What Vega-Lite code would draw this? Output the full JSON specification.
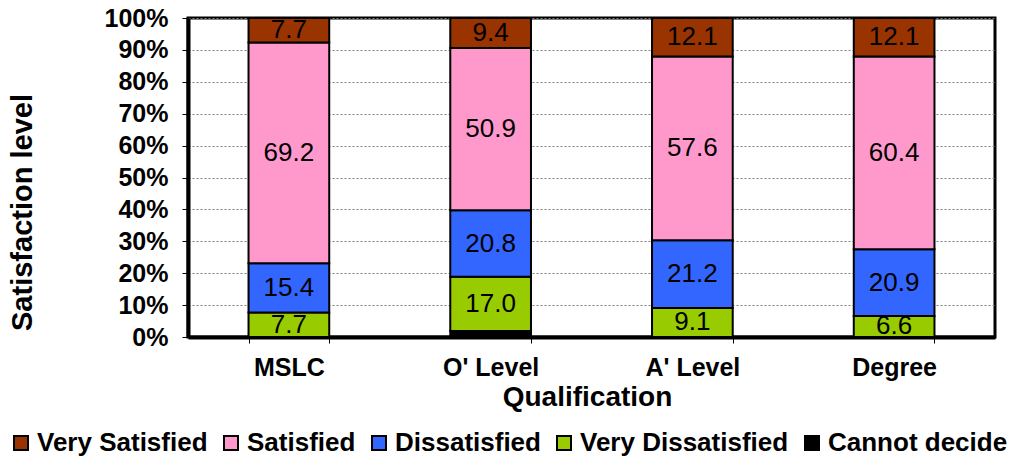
{
  "$schema": "https://vega.github.io/schema/vega-lite/v6.json",
  "width": 807,
  "height": 319,
  "autosize": {"type": "none"},
  "padding": {"left": 188, "top": 18, "right": 34, "bottom": 137},
  "background": "white",
  "config": {
    "font": "Liberation Sans",
    "view": {"stroke": "black", "strokeWidth": 3}
  },
  "data": {
    "values": [
      {"q": "MSLC", "cat": "Cannot decide", "o": 1, "v": 0},
      {"q": "MSLC", "cat": "Very Dissatisfied", "o": 2, "v": 7.7},
      {"q": "MSLC", "cat": "Dissatisfied", "o": 3, "v": 15.4},
      {"q": "MSLC", "cat": "Satisfied", "o": 4, "v": 69.2},
      {"q": "MSLC", "cat": "Very Satisfied", "o": 5, "v": 7.7},
      {"q": "O' Level", "cat": "Cannot decide", "o": 1, "v": 1.9},
      {"q": "O' Level", "cat": "Very Dissatisfied", "o": 2, "v": 17.0},
      {"q": "O' Level", "cat": "Dissatisfied", "o": 3, "v": 20.8},
      {"q": "O' Level", "cat": "Satisfied", "o": 4, "v": 50.9},
      {"q": "O' Level", "cat": "Very Satisfied", "o": 5, "v": 9.4},
      {"q": "A' Level", "cat": "Cannot decide", "o": 1, "v": 0},
      {"q": "A' Level", "cat": "Very Dissatisfied", "o": 2, "v": 9.1},
      {"q": "A' Level", "cat": "Dissatisfied", "o": 3, "v": 21.2},
      {"q": "A' Level", "cat": "Satisfied", "o": 4, "v": 57.6},
      {"q": "A' Level", "cat": "Very Satisfied", "o": 5, "v": 12.1},
      {"q": "Degree", "cat": "Cannot decide", "o": 1, "v": 0},
      {"q": "Degree", "cat": "Very Dissatisfied", "o": 2, "v": 6.6},
      {"q": "Degree", "cat": "Dissatisfied", "o": 3, "v": 20.9},
      {"q": "Degree", "cat": "Satisfied", "o": 4, "v": 60.4},
      {"q": "Degree", "cat": "Very Satisfied", "o": 5, "v": 12.1}
    ]
  },
  "transform": [
    {"stack": "v", "groupby": ["q"], "sort": [{"field": "o", "order": "ascending"}], "as": ["v0", "v1"]},
    {"calculate": "(datum.v0 + datum.v1) / 2", "as": "mid"}
  ],
  "encoding": {
    "x": {
      "field": "q", "type": "nominal",
      "sort": ["MSLC", "O' Level", "A' Level", "Degree"],
      "scale": {"paddingInner": 0.6, "paddingOuter": 0.3},
      "axis": {
        "title": "Qualification",
        "labelAngle": 0,
        "labelFont": "Liberation Sans", "labelFontWeight": "bold", "labelFontSize": 25, "labelColor": "black",
        "labelPadding": 12,
        "titleFont": "Liberation Sans", "titleFontWeight": "bold", "titleFontSize": 28, "titleColor": "black",
        "titlePadding": 0,
        "titleX": 399,
        "titleY": 46,
        "titleBaseline": "top",
        "domainColor": "black", "domainWidth": 4,
        "tickBand": "extent", "tickColor": "black", "tickSize": 6, "tickWidth": 1
      }
    }
  },
  "resolve": {"axis": {"y": "independent"}},
  "layer": [
    {
      "mark": {"type": "bar", "stroke": "black", "strokeWidth": 2},
      "encoding": {
        "y": {
          "field": "v0", "type": "quantitative",
          "scale": {"domain": [0, 100], "nice": false},
          "axis": {
            "title": "Satisfaction level",
            "values": [0, 10, 20, 30, 40, 50, 60, 70, 80, 90, 100],
            "labelOverlap": false,
            "labelExpr": "datum.value + '%'",
            "labelFont": "Liberation Sans", "labelFontWeight": "bold", "labelFontSize": 25, "labelColor": "black",
            "labelPadding": 14,
            "titleFont": "Liberation Sans", "titleFontWeight": "bold", "titleFontSize": 29, "titleColor": "black",
            "titleX": -166, "titleY": 194, "titleAngle": -90, "titleBaseline": "middle",
            "domainColor": "black", "domainWidth": 4,
            "tickColor": "black", "tickSize": 6,
            "grid": true, "gridColor": "#808080", "gridDash": [2, 2], "gridWidth": 1
          }
        },
        "y2": {"field": "v1"},
        "color": {
          "field": "cat", "type": "nominal",
          "scale": {
            "domain": ["Very Satisfied", "Satisfied", "Dissatisfied", "Very Dissatisfied", "Cannot decide"],
            "range": ["#993300", "#FF99CC", "#3366FF", "#99CC00", "#000000"]
          },
          "legend": {
            "title": null,
            "orient": "none",
            "direction": "horizontal",
            "columns": 5,
            "legendX": -180,
            "legendY": 412,
            "symbolType": "square",
            "symbolSize": 196,
            "symbolStrokeColor": "black",
            "symbolStrokeWidth": 2,
            "symbolOpacity": 1,
            "labelFont": "Liberation Sans", "labelFontWeight": "bold", "labelFontSize": 26, "labelColor": "black",
            "labelOffset": 3,
            "columnPadding": 10,
            "labelLimit": 400
          }
        }
      }
    },
    {
      "transform": [{"filter": "datum.v >= 5"}],
      "mark": {"type": "text", "font": "Liberation Sans", "fontSize": 26, "color": "black", "baseline": "middle"},
      "encoding": {
        "y": {"field": "mid", "type": "quantitative", "axis": null},
        "text": {"field": "v", "type": "quantitative", "format": ".1f"}
      }
    }
  ]
}
